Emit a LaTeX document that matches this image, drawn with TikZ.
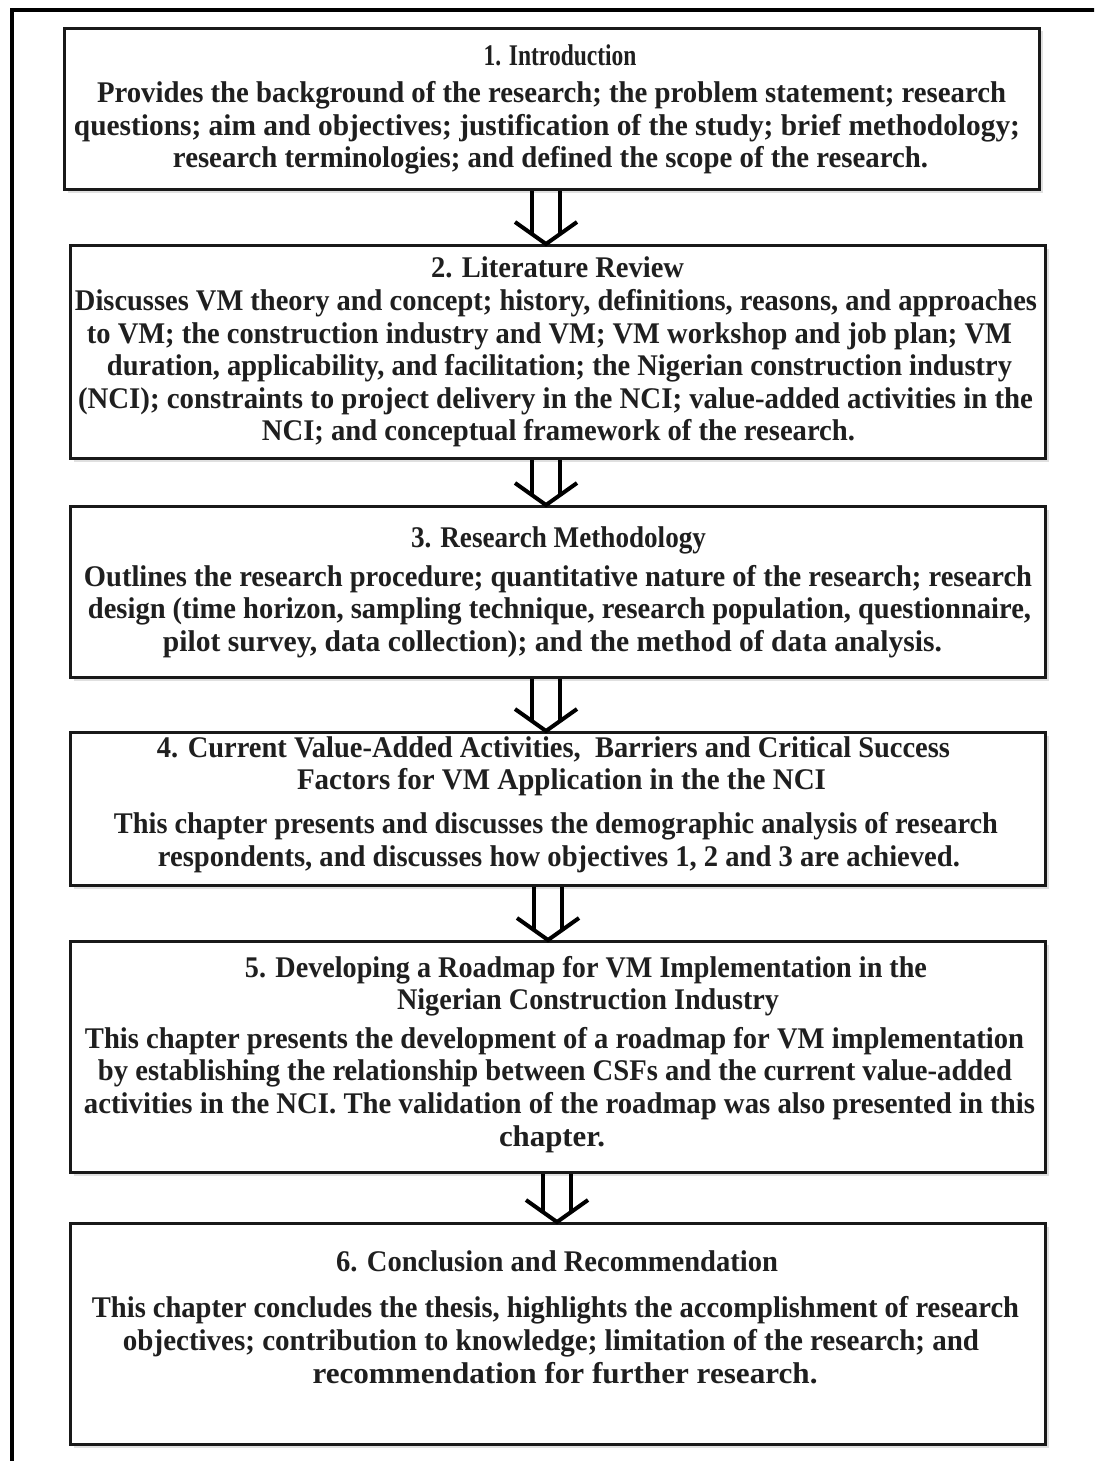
\documentclass[tikz,border=0pt]{standalone}
\usepackage{fontspec}
\setmainfont{Liberation Serif}
\usepackage{graphicx}
\usetikzlibrary{shadows}
\newdimen\px \px=0.5pt
\newcommand\tline[5]{\node[txt] (#1) at (#2,#3) {\resizebox{#4\px}{\height}{#5}};}
\newcommand\dblarr[4]{%
  \coordinate (#4l) at ({#3-14},0);
  \coordinate (#4r) at ({#3+14},0);
  \coordinate (#4c) at (#3,0);
  \coordinate (#4L) at ({#3-31},0);
  \coordinate (#4R) at ({#3+31},0);
  \draw[arr] (#1.south -| #4l) -- ([yshift=5pt]#2.north -| #4l);
  \draw[arr] (#1.south -| #4r) -- ([yshift=5pt]#2.north -| #4r);
  \draw[arr] ([yshift=11pt]#2.north -| #4L) -- (#2.north -| #4c) -- ([yshift=11pt]#2.north -| #4R);
}
\tikzset{
  stepbox/.style={draw=black!90, line width=1.5pt, fill=white,
    drop shadow={shadow xshift=1.5pt, shadow yshift=-1.5pt, fill=black!12, opacity=1},
    minimum width=487.5pt, inner sep=0pt, anchor=north west},
  txt/.style={anchor=base, inner sep=0pt, text=black!88,
    font=\bfseries\fontsize{15}{18}\selectfont},
  arr/.style={line width=2pt, draw=black, line cap=butt, line join=miter},
  frame/.style={line width=2pt, draw=black}
}
\begin{document}
\begin{tikzpicture}[x=0.5pt,y=-0.5pt]
\useasboundingbox (0,0) rectangle (1094,1461);
\clip (0,0) rectangle (1094,1461);
\fill[white] (0,0) rectangle (1094,1461);
\coordinate (fbl) at (12,1500);
\coordinate (ftl) at (12,10);
\coordinate (ftr) at (1200,10);
\draw[frame] (fbl) -- (ftl) -- (ftr);

\node[stepbox, minimum height=80.5pt] (b1) at (63,27) {};
\node[stepbox, minimum height=106.5pt] (b2) at (69,244) {};
\node[stepbox, minimum height=85.5pt] (b3) at (69,505) {};
\node[stepbox, minimum height=76.5pt] (b4) at (69,731) {};
\node[stepbox, minimum height=115.5pt] (b5) at (69,940) {};
\node[stepbox, minimum height=110.5pt] (b6) at (69,1222) {};

\dblarr{b1}{b2}{546}{a1}
\dblarr{b2}{b3}{546}{a2}
\dblarr{b3}{b4}{546}{a3}
\dblarr{b4}{b5}{548}{a4}
\dblarr{b5}{b6}{557}{a5}

\tline{t1a}{560}{66}{153}{1. Introduction}
\tline{t1b}{551.5}{103}{909}{Provides the background of the research; the problem statement; research}
\tline{t1c}{547}{135}{946}{questions; aim and objectives; justification of the study; brief methodology;}
\tline{t1d}{550.5}{167}{755}{research terminologies; and defined the scope of the research.}

\tline{t2a}{557.5}{277}{253}{2. Literature Review}
\tline{t2b}{556}{310}{962}{Discusses VM theory and concept; history, definitions, reasons, and approaches}
\tline{t2c}{549.5}{343}{925}{to VM; the construction industry and VM; VM workshop and job plan; VM}
\tline{t2d}{559.5}{375}{905}{duration, applicability, and facilitation; the Nigerian construction industry}
\tline{t2e}{555.5}{408}{955}{(NCI); constraints to project delivery in the NCI; value-added activities in the}
\tline{t2f}{558.5}{440}{593}{NCI; and conceptual framework of the research.}

\tline{t3a}{558.5}{547}{295}{3. Research Methodology}
\tline{t3b}{558}{586}{948}{Outlines the research procedure; quantitative nature of the research; research}
\tline{t3c}{559.5}{618}{943}{design (time horizon, sampling technique, research population, questionnaire,}
\tline{t3d}{552.5}{651}{779}{pilot survey, data collection); and the method of data analysis.}

\tline{t4a}{553.5}{757}{793}{4. Current Value-Added Activities,~ Barriers and Critical Success}
\tline{t4b}{561.5}{789}{529}{Factors for VM Application in the the NCI}
\tline{t4c}{556}{833}{884}{This chapter presents and discusses the demographic analysis of research}
\tline{t4d}{559}{866}{802}{respondents, and discusses how objectives 1, 2 and 3 are achieved.}

\tline{t5a}{586}{977}{682}{5. Developing a Roadmap for VM Implementation in the}
\tline{t5b}{588}{1009}{382}{Nigerian Construction Industry}
\tline{t5c}{554.5}{1048}{939}{This chapter presents the development of a roadmap for VM implementation}
\tline{t5d}{555}{1080}{914}{by establishing the relationship between CSFs and the current value-added}
\tline{t5e}{559.5}{1113}{951}{activities in the NCI. The validation of the roadmap was also presented in this}
\tline{t5f}{552}{1146}{106}{chapter.}

\tline{t6a}{557}{1271}{442}{6. Conclusion and Recommendation}
\tline{t6b}{555.5}{1317}{927}{This chapter concludes the thesis, highlights the accomplishment of research}
\tline{t6c}{551}{1350}{856}{objectives; contribution to knowledge; limitation of the research; and}
\tline{t6d}{565}{1383}{505}{recommendation for further research.}
\end{tikzpicture}
\end{document}
